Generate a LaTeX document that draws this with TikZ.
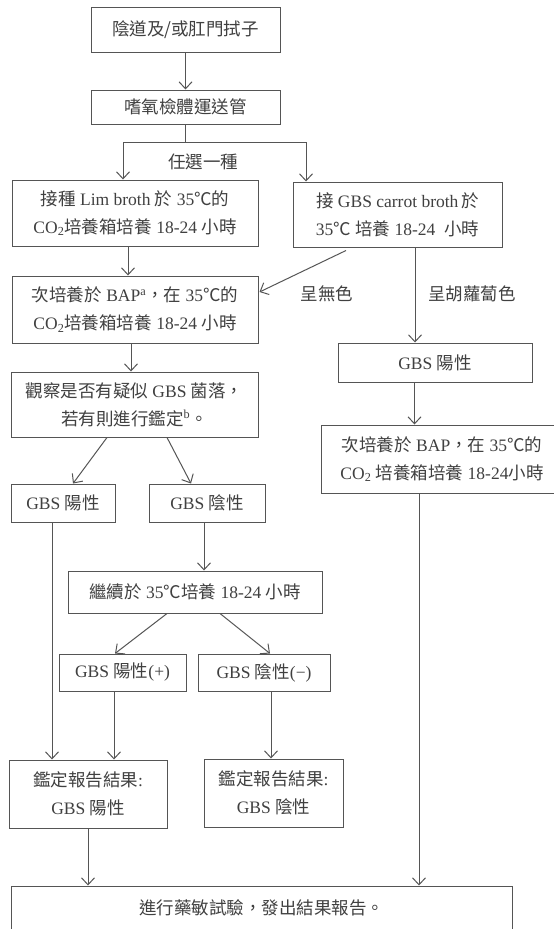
\documentclass[tikz,border=0pt]{standalone}
\usepackage{fontspec}
\setmainfont{Liberation Serif}
\newfontfamily\cjk{Noto Sans CJK TC}
\usetikzlibrary{arrows.meta}
\newcommand\zh[1]{{\cjk #1}}
\definecolor{txt}{HTML}{404040}
\definecolor{ln}{HTML}{555555}
\tikzset{
  box/.style={draw=ln, line width=1pt, rectangle, inner sep=0pt, align=center, text=txt,
    font=\fontsize{17.5}{28}\selectfont},
  lbl/.style={inner sep=0pt, text=txt, font=\fontsize{17.5}{28}\selectfont},
  arr/.style={draw=ln, line width=1pt, -{Straight Barb[length=7pt,width=13pt,line width=1pt]}},
  conn/.style={draw=ln, line width=1pt}
}
\begin{document}
\begin{tikzpicture}[x=1pt,y=-1pt]
\useasboundingbox (0,0) rectangle (554,929);
\clip (0,0) rectangle (554,929);
\fill[white] (0,0) rectangle (554,929);
% nodes
\node[box, minimum width=189pt, minimum height=45pt] (b1) at (185.5,29.5) {\zh{陰道及/或肛門拭子}};
\node[box, minimum width=189pt, minimum height=34pt] (b2) at (185.5,107) {\zh{嗜氧檢體運送管}};
\node[box, minimum width=246pt, minimum height=66pt] (b3) at (135,213) {\zh{接種} Lim broth \zh{於} 35\zh{℃的}\\CO\textsubscript{2}\zh{培養箱培養} 18-24 \zh{小時}};
\node[box, minimum width=209pt, minimum height=65pt] (b4) at (397.5,214.5) {\zh{接} GBS carrot broth\,\zh{於}\\35\zh{℃} \zh{培養} 18-24\ \ \zh{小時}};
\node[box, minimum width=246pt, minimum height=67pt] (b5) at (135,309.5) {\zh{次培養於} BAP\textsuperscript{a}\zh{，在} 35\zh{℃的}\\CO\textsubscript{2}\zh{培養箱培養} 18-24 \zh{小時}};
\node[box, minimum width=194pt, minimum height=39pt] (b6) at (435,362.5) {GBS \zh{陽性}};
\node[box, minimum width=242pt, minimum height=68pt] (b7) at (442,459) {\zh{次培養於} BAP\zh{，在} 35\zh{℃的}\\CO\textsubscript{2} \zh{培養箱培養} 18-24\zh{小時}};
\node[box, minimum width=247pt, minimum height=65pt] (b8) at (134.5,404.5) {\zh{觀察是否有疑似} GBS \zh{菌落，}\\\zh{若有則進行鑑定}\textsuperscript{b}\zh{。}};
\node[box, minimum width=104pt, minimum height=38pt] (b9) at (63,503) {GBS \zh{陽性}};
\node[box, minimum width=116pt, minimum height=38pt] (b10) at (207,503) {GBS \zh{陰性}};
\node[box, minimum width=254pt, minimum height=42pt] (b11) at (195,592) {\zh{繼續於} 35\zh{℃培養} 18-24 \zh{小時}};
\node[box, minimum width=127pt, minimum height=37pt] (b12) at (122.5,672.5) {GBS \zh{陽性}(+)};
\node[box, minimum width=132pt, minimum height=37pt] (b13) at (264,672.5) {GBS \zh{陰性}(−)};
\node[box, minimum width=158pt, minimum height=68pt] (b14) at (88,794) {\zh{鑑定報告結果}:\\GBS \zh{陽性}};
\node[box, minimum width=139pt, minimum height=68pt] (b15) at (273.5,793) {\zh{鑑定報告結果}:\\GBS \zh{陰性}};
\node[box, minimum width=501pt, minimum height=44pt] (b16) at (261.5,908) {\zh{進行藥敏試驗，發出結果報告。}};
% labels
\node[lbl] (l1) at (203,162) {\zh{任選一種}};
\node[lbl] (l2) at (327,294) {\zh{呈無色}};
\node[lbl] (l3) at (472,294) {\zh{呈胡蘿蔔色}};
\coordinate (split) at (185.5,142);
% connectors
\draw[arr] (b1) -- (b2);
\draw[conn] (b2.south) -- (split);
\draw[arr] (split) -| ([xshift=-12pt]b3.north);
\draw[arr] (split) -| ([xshift=-91.5pt]b4.north);
\draw[arr] ([xshift=-7pt]b3.south) -- ([xshift=-7pt]b5.north);
\draw[arr] ([xshift=-51.5pt,yshift=-3pt]b4.south) -- ([xshift=1pt,yshift=17.5pt]b5.east);
\draw[arr] ([xshift=17.5pt]b4.south) -- ([xshift=-20pt]b6.north);
\draw[arr] ([xshift=-20.5pt]b6.south) -- ([xshift=-27.5pt]b7.north);
\draw[arr] ([xshift=-4pt]b5.south) -- ([xshift=-3.5pt]b8.north);
\draw[arr] ([xshift=-27.5pt]b8.south) -- ([xshift=10pt]b9.north);
\draw[arr] ([xshift=32.5pt]b8.south) -- ([xshift=-16pt]b10.north);
\draw[arr] ([xshift=-3pt]b10.south) -- ([xshift=9pt]b11.north);
\draw[arr] ([xshift=-28pt]b11.south) -- ([xshift=-7.5pt]b12.north);
\draw[arr] ([xshift=25pt]b11.south) -- ([xshift=6pt]b13.north);
\draw[arr] ([xshift=-11pt]b9.south) -- ([xshift=-36pt]b14.north);
\draw[arr] ([xshift=-8.5pt]b12.south) -- ([xshift=26pt]b14.north);
\draw[arr] ([xshift=7pt]b13.south) -- ([xshift=-2.5pt]b15.north);
\draw[arr] (b14.south) -- ([xshift=-173.5pt]b16.north);
\draw[arr] ([xshift=-23pt]b7.south) -- ([xshift=157.5pt]b16.north);
\end{tikzpicture}
\end{document}
